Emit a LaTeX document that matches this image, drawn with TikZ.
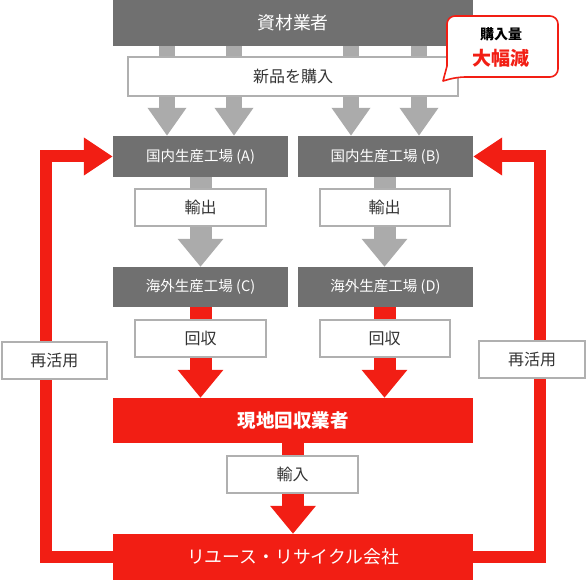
\documentclass[tikz,border=0pt]{standalone}
\usepackage{fontspec}
\setmainfont{Noto Sans CJK JP}
\usetikzlibrary{arrows.meta,calc}
\definecolor{dgray}{HTML}{707070}
\definecolor{lgray}{HTML}{ABABAB}
\definecolor{bgray}{HTML}{B0B0B0}
\definecolor{myred}{HTML}{F21E14}
\definecolor{txt}{HTML}{333333}
\tikzset{
  darkbox/.style={fill=dgray, text=white, inner sep=0, font=\fontsize{14.5}{16}\selectfont},
  redbox/.style={fill=myred, text=white, inner sep=0, font=\fontsize{17.8}{20}\selectfont},
  labelbox/.style={fill=white, draw=bgray, line width=2pt, text=txt, inner sep=0, font=\fontsize{16}{18}\selectfont},
  thinarrow/.style={draw=lgray, line width=16pt, -{Triangle[width=37pt,length=28pt]}},
  grayarrow/.style={draw=lgray, line width=22pt, -{Triangle[width=44pt,length=28pt]}},
  redarrow/.style={draw=myred, line width=22pt, -{Triangle[width=44pt,length=28pt]}},
  looparrow/.style={draw=myred, line width=12pt, line join=miter, -{Triangle[width=36pt,length=29pt]}}
}
\begin{document}
\begin{tikzpicture}[x=1pt,y=-1pt]
\useasboundingbox (0,0) rectangle (586,580);
% main boxes
\node[darkbox, minimum width=360, minimum height=46, font=\fontsize{17.8}{20}\selectfont] (top) at (293,23) {資材業者};
\node[darkbox, minimum width=175, minimum height=41] (A) at (200.5,156.5) {国内生産工場 (A)};
\node[darkbox, minimum width=175, minimum height=41] (B) at (385.5,156.5) {国内生産工場 (B)};
\node[darkbox, minimum width=175, minimum height=40] (C) at (200.5,287) {海外生産工場 (C)};
\node[darkbox, minimum width=175, minimum height=40] (D) at (385.5,287) {海外生産工場 (D)};
\node[redbox, minimum width=360, minimum height=45, font=\fontsize{18.5}{21}\selectfont\bfseries] (local) at (293,420.5) {現地回収業者};
\node[redbox, minimum width=360, minimum height=46] (recycle) at (293,557) {リユース・リサイクル会社};
% arrows
\draw[thinarrow] ([xshift=-126pt]top.south) -- ([xshift=-126pt]top.south |- A.north);
\draw[thinarrow] ([xshift=-59pt]top.south) -- ([xshift=-59pt]top.south |- A.north);
\draw[thinarrow] ([xshift=58pt]top.south) -- ([xshift=58pt]top.south |- B.north);
\draw[thinarrow] ([xshift=126pt]top.south) -- ([xshift=126pt]top.south |- B.north);
\draw[grayarrow] (A.south) -- (C.north);
\draw[grayarrow] ([xshift=-1pt]B.south) -- ([xshift=-1pt]D.north);
\draw[redarrow] (C.south) -- (C.south |- local.north);
\draw[redarrow] ([xshift=-1pt]D.south) -- ([xshift=-1pt]D.south |- local.north);
\draw[redarrow] (local.south) -- (recycle.north);
\coordinate (lx) at (46,0);
\coordinate (rx) at (540,0);
\draw[looparrow] ([xshift=1pt]recycle.west) -- (recycle.west -| lx) -- (A.west -| lx) -- (A.west);
\draw[looparrow] ([xshift=-1pt]recycle.east) -- (recycle.east -| rx) -- (B.east -| rx) -- (B.east);
% label boxes
\node[labelbox, minimum width=330, minimum height=39] (buy) at (293,76.5) {新品を購入};
\node[labelbox, minimum width=131, minimum height=37] (exA) at (200.5,207.5) {輸出};
\node[labelbox, minimum width=130, minimum height=37] (exB) at (384.5,207.5) {輸出};
\node[labelbox, minimum width=131, minimum height=37] (colA) at (200.5,338.5) {回収};
\node[labelbox, minimum width=130, minimum height=37] (colB) at (384.5,338.5) {回収};
\node[labelbox, minimum width=131, minimum height=37] (imp) at (292.5,474.5) {輸入};
\node[labelbox, minimum width=105, minimum height=37] (reL) at (54.5,360.5) {再活用};
\node[labelbox, minimum width=106, minimum height=37] (reR) at (532,359.5) {再活用};
% callout
\draw[fill=white, draw=myred, line width=1.6pt, line join=round] (443,81) -- (447,66) {[rounded corners=8pt] -- (447,16) -- (558,16) -- (558,77) -- (457,77)} -- cycle;
\node[text=black, inner sep=0, font=\fontsize{14}{16}\selectfont\bfseries] (qty) at (501,34) {購入量};
\node[text=myred, inner sep=0, font=\fontsize{19}{22}\selectfont\bfseries] (dec) at (501,58) {大幅減};
\end{tikzpicture}
\end{document}
